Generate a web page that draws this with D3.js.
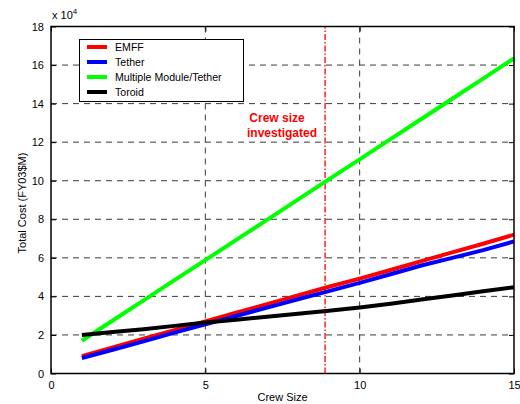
<!DOCTYPE html>
<html>
<head>
<meta charset="utf-8">
<script src="https://cdn.jsdelivr.net/npm/d3@7"></script>
<style>
  html, body { margin: 0; padding: 0; background: #fff; }
  text { font-family: "Liberation Sans", Arial, Helvetica, sans-serif; }
</style>
</head>
<body>
<svg id="chart" width="520" height="404"></svg>
<script>
// Crew sizes evaluated
const crewSize = [1, 2, 3, 4, 5, 6, 7, 8, 9, 10, 11, 12, 13, 14, 15];

// Total cost per architecture, in units of 10^4 FY03$M
const emff     = [0.90, 1.35, 1.80, 2.25, 2.70, 3.15, 3.60, 4.05, 4.50, 4.92, 5.37, 5.83, 6.28, 6.73, 7.20];
const tether   = [0.80, 1.23, 1.67, 2.12, 2.55, 2.98, 3.42, 3.85, 4.27, 4.70, 5.15, 5.60, 6.00, 6.40, 6.85];
const multiMod = [1.70, 2.75, 3.79, 4.84, 5.88, 6.93, 7.97, 9.02, 10.07, 11.11, 12.16, 13.20, 14.25, 15.30, 16.35];
const toroid   = [2.00, 2.15, 2.30, 2.47, 2.64, 2.79, 2.94, 3.10, 3.25, 3.42, 3.62, 3.84, 4.05, 4.27, 4.47];

const seriesNames  = ["EMFF", "Tether", "Multiple Module/Tether", "Toroid"];
const seriesValues = [emff, tether, multiMod, toroid];
const seriesColors = ["#ff0000", "#0000ff", "#00ff00", "#000000"];

const xTicks = [0, 5, 10, 15];
const yTicks = [0, 2, 4, 6, 8, 10, 12, 14, 16, 18];
const investigatedCrew = 8.88;

const svg = d3.select("#chart");
const plotL = 51, plotR = 514, plotT = 26.5, plotB = 373.5;

const x = d3.scaleLinear().domain([0, 15]).range([plotL, plotR]);
const y = d3.scaleLinear().domain([0, 18]).range([plotB, plotT]);

// Grid lines
const grid = svg.append("g").attr("stroke", "#3a3a3a").attr("stroke-width", 1)
  .attr("stroke-dasharray", "6,5");
xTicks.slice(1, -1).forEach(t => {
  grid.append("line").attr("x1", x(t)).attr("x2", x(t))
    .attr("y1", plotB).attr("y2", plotT);
});
yTicks.slice(1, -1).forEach(t => {
  grid.append("line").attr("x1", plotL).attr("x2", plotR)
    .attr("y1", y(t)).attr("y2", y(t));
});

// Investigated crew size marker
svg.append("line")
  .attr("x1", x(investigatedCrew)).attr("x2", x(investigatedCrew))
  .attr("y1", plotB).attr("y2", plotT)
  .attr("stroke", "#ff0000").attr("stroke-width", 1.3)
  .attr("stroke-dasharray", "6,2,1.5,2");

svg.append("text")
  .attr("x", 277).attr("y", 122)
  .attr("text-anchor", "middle")
  .attr("fill", "#ff0000").attr("font-weight", "bold").attr("font-size", 12)
  .text("Crew size");
svg.append("text")
  .attr("x", 282).attr("y", 137)
  .attr("text-anchor", "middle")
  .attr("fill", "#ff0000").attr("font-weight", "bold").attr("font-size", 12)
  .text("investigated");

// Series lines
const line = d3.line().x((d, i) => x(crewSize[i])).y(d => y(d));
seriesValues.forEach((vals, k) => {
  svg.append("path")
    .datum(vals)
    .attr("d", line)
    .attr("fill", "none")
    .attr("stroke", seriesColors[k])
    .attr("stroke-width", 4)
    .attr("stroke-linejoin", "round");
});

// Axes: inward ticks on all four sides, with a frame
const xAxisB = d3.axisBottom(x).tickValues(xTicks).tickSizeInner(-5).tickSizeOuter(0).tickPadding(8);
const yAxisL = d3.axisLeft(y).tickValues(yTicks).tickSizeInner(-5).tickSizeOuter(0).tickPadding(7);

const gx = svg.append("g").attr("transform", `translate(0,${plotB})`).call(xAxisB);
const gy = svg.append("g").attr("transform", `translate(${plotL},0)`).call(yAxisL);
const gxT = svg.append("g").attr("transform", `translate(0,${plotT})`)
  .call(d3.axisTop(x).tickValues(xTicks).tickSizeInner(-5).tickSizeOuter(0).tickFormat(""));
const gyR = svg.append("g").attr("transform", `translate(${plotR},0)`)
  .call(d3.axisRight(y).tickValues(yTicks).tickSizeInner(-5).tickSizeOuter(0).tickFormat(""));

[gx, gy, gxT, gyR].forEach(g => {
  g.select(".domain").remove();
  g.selectAll("line").attr("stroke", "#000");
  g.selectAll("text").attr("font-size", 11)
    .attr("font-family", "'Liberation Sans', Arial, sans-serif").attr("fill", "#000");
});

svg.append("rect")
  .attr("x", plotL).attr("y", plotT)
  .attr("width", plotR - plotL).attr("height", plotB - plotT)
  .attr("fill", "none").attr("stroke", "#000").attr("stroke-width", 1.5);

// Exponent label
const expo = svg.append("text").attr("x", 52).attr("y", 19).attr("font-size", 11);
expo.append("tspan").text("x 10");
expo.append("tspan").attr("dy", -5).attr("font-size", 8).text("4");

// Axis titles
svg.append("text")
  .attr("x", x(7.5)).attr("y", 401)
  .attr("text-anchor", "middle").attr("font-size", 11)
  .text("Crew Size");
svg.append("text")
  .attr("transform", `translate(26,${(plotT + plotB) / 2 + 3}) rotate(-90)`)
  .attr("text-anchor", "middle").attr("font-size", 11)
  .text("Total Cost (FY03$M)");

// Legend
const lg = svg.append("g");
lg.append("rect")
  .attr("x", 79.5).attr("y", 39.5).attr("width", 164).attr("height", 62)
  .attr("fill", "#fff").attr("stroke", "#000").attr("stroke-width", 1);
seriesNames.forEach((name, k) => {
  const ly = 47 + k * 15;
  lg.append("line")
    .attr("x1", 87).attr("x2", 107).attr("y1", ly).attr("y2", ly)
    .attr("stroke", seriesColors[k]).attr("stroke-width", 4);
  lg.append("text")
    .attr("x", 115).attr("y", ly + 4).attr("font-size", 10.6)
    .text(name);
});
</script>
</body>
</html>
